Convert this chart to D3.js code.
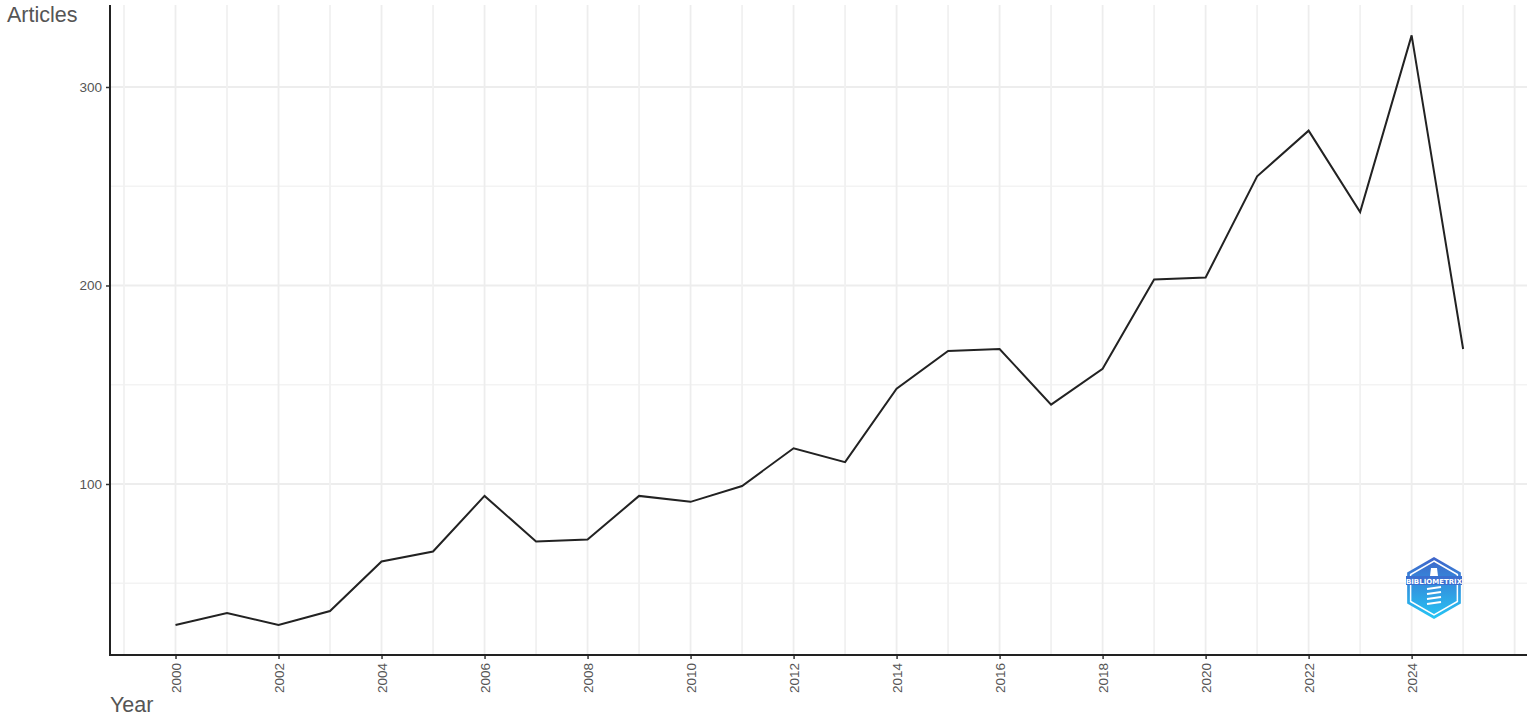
<!DOCTYPE html>
<html><head><meta charset="utf-8">
<script src="https://cdn.jsdelivr.net/npm/d3@7"></script>
<style>body{margin:0;background:#fff;} svg{display:block;}</style>
</head><body>
<svg id="chart" width="1535" height="718"></svg>
<script>
const years = [2000,2001,2002,2003,2004,2005,2006,2007,2008,2009,2010,2011,2012,2013,2014,2015,2016,2017,2018,2019,2020,2021,2022,2023,2024,2025];
const articles = [29,35,29,36,61,66,94,71,72,94,91,99,118,111,148,167,168,140,158,203,204,255,278,237,326,168];
const xTicks = [2000,2002,2004,2006,2008,2010,2012,2014,2016,2018,2020,2022,2024];
const xGrid = d3.range(1999, 2027);
const yTicks = [100,200,300];
const yMinor = [50,150,250];

const svg = d3.select("#chart");
const pLeft = 110, pRight = 1527, pTop = 5, pBottom = 655;
const x = d3.scaleLinear().domain([1998.728, 2026.24]).range([pLeft, pRight]);
const y = d3.scaleLinear().domain([13.85, 341.3]).range([pBottom, pTop]);

const grid = svg.append("g");
grid.selectAll(".hm").data(yMinor).enter().append("line")
  .attr("x1", pLeft).attr("x2", pRight).attr("y1", d=>y(d)).attr("y2", d=>y(d))
  .attr("stroke", "#f3f3f3").attr("stroke-width", 1.5);
grid.selectAll(".hM").data(yTicks).enter().append("line")
  .attr("x1", pLeft).attr("x2", pRight).attr("y1", d=>y(d)).attr("y2", d=>y(d))
  .attr("stroke", "#ededed").attr("stroke-width", 1.8);
grid.selectAll(".v").data(xGrid).enter().append("line")
  .attr("y1", pTop).attr("y2", pBottom).attr("x1", d=>x(d)).attr("x2", d=>x(d))
  .attr("stroke", d => d % 2 === 0 ? "#ededed" : "#f1f1f1").attr("stroke-width", 1.8);

// line
const line = d3.line().x((d,i)=>x(years[i])).y(d=>y(d));
svg.append("path").datum(articles).attr("d", line)
  .attr("fill","none").attr("stroke","#222").attr("stroke-width",2).attr("stroke-linejoin","miter");

// axes
const yAxis = svg.append("g").attr("transform", `translate(${pLeft},0)`)
  .call(d3.axisLeft(y).tickValues(yTicks).tickSize(4).tickPadding(4));
yAxis.select(".domain").remove();
yAxis.selectAll(".tick line").attr("stroke","#333").attr("stroke-width",1.5);
yAxis.selectAll(".tick text").attr("fill","#555").style("font-family","Liberation Sans, Arial, sans-serif").style("font-size","13.5px");

const xAxis = svg.append("g").attr("transform", `translate(0,${pBottom})`)
  .call(d3.axisBottom(x).tickValues(xTicks).tickFormat(d3.format("d")).tickSize(4));
xAxis.select(".domain").remove();
xAxis.selectAll(".tick line").attr("stroke","#333").attr("stroke-width",1.5);
xAxis.selectAll(".tick text").attr("fill","#555")
  .style("font-family","Liberation Sans, Arial, sans-serif").style("font-size","13.5px")
  .attr("transform","rotate(-90)").attr("text-anchor","end").attr("dy","0.35em").attr("x",-8).attr("y",0);

svg.append("line").attr("x1",pLeft).attr("x2",pLeft).attr("y1",pTop).attr("y2",pBottom+1)
  .attr("stroke","#222").attr("stroke-width",2);
svg.append("line").attr("x1",pLeft-1).attr("x2",pRight).attr("y1",pBottom).attr("y2",pBottom)
  .attr("stroke","#222").attr("stroke-width",2);

// titles
svg.append("text").attr("x",7).attr("y",22).text("Articles")
  .attr("fill","#555").style("font-family","Liberation Sans, Arial, sans-serif").style("font-size","21.5px");
svg.append("text").attr("x",110).attr("y",712).text("Year")
  .attr("fill","#555").style("font-family","Liberation Sans, Arial, sans-serif").style("font-size","21.5px");

// logo
const defs = svg.append("defs");
const grad = defs.append("linearGradient").attr("id","lg").attr("x1",0).attr("y1",0).attr("x2",0).attr("y2",1);
grad.append("stop").attr("offset","0%").attr("stop-color","#3f63c9");
grad.append("stop").attr("offset","100%").attr("stop-color","#25c6f5");
const cx = 1434, cy = 588, r = 31;
const hex = d3.range(6).map(i => { const a = Math.PI/3*i - Math.PI/2; return [cx + r*Math.cos(a), cy + r*Math.sin(a)]; });
const logo = svg.append("g");
logo.append("polygon").attr("points", hex.map(p=>p.join(",")).join(" ")).attr("fill","url(#lg)");
const hex2 = d3.range(6).map(i => { const a = Math.PI/3*i - Math.PI/2; return [cx + (r-4)*Math.cos(a), cy + (r-4)*Math.sin(a)]; });
logo.append("polygon").attr("points", hex2.map(p=>p.join(",")).join(" ")).attr("fill","none").attr("stroke","#fff").attr("stroke-width",1.5);
logo.append("rect").attr("x",cx-28).attr("y",cy-12).attr("width",56).attr("height",9).attr("fill","#3b6fd0");
logo.append("text").attr("x",cx).attr("y",cy-4.5).attr("text-anchor","middle").text("BIBLIOMETRIX")
  .attr("fill","#fff").style("font-family","DejaVu Sans, sans-serif").style("font-size","7px").style("font-weight","bold");
[0,1,2,3].forEach(i=>{
  logo.append("path").attr("d",`M${cx-7},${cy+1+i*5} L${cx+7},${cy-1+i*5}`).attr("stroke","#fff").attr("stroke-width",2);
});
logo.append("path").attr("d",`M${cx-3},${cy-20} L${cx+3},${cy-20} L${cx+4},${cy-12} L${cx-4},${cy-12} Z`).attr("fill","#fff");
</script>
</body></html>
